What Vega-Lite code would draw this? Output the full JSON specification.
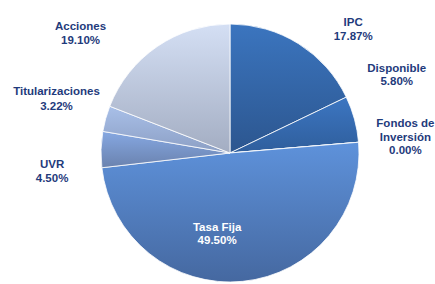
{
  "$schema": "https://vega.github.io/schema/vega-lite/v6.json",
  "autosize": "none",
  "width": 260,
  "height": 260,
  "padding": {"left": 100, "top": 23, "right": 75, "bottom": 1},
  "background": "white",
  "config": {"view": {"stroke": null}},
  "data": {
    "values": [
      {"name": "IPC", "value": 17.87, "order": 1, "label": ["IPC", "17.87%"]},
      {"name": "Disponible", "value": 5.80, "order": 2, "label": ["Disponible", "5.80%"]},
      {"name": "Fondos de Inversión", "value": 0.0, "order": 3, "label": ["Fondos de", "Inversión", "0.00%"]},
      {"name": "Tasa Fija", "value": 49.50, "order": 4, "label": ["Tasa Fija", "49.50%"]},
      {"name": "UVR", "value": 4.50, "order": 5, "label": ["UVR", "4.50%"]},
      {"name": "Titularizaciones", "value": 3.22, "order": 6, "label": ["Titularizaciones", "3.22%"]},
      {"name": "Acciones", "value": 19.10, "order": 7, "label": ["Acciones", "19.10%"]}
    ]
  },
  "encoding": {
    "theta": {"field": "value", "type": "quantitative", "stack": true},
    "order": {"field": "order", "type": "quantitative"}
  },
  "layer": [
    {
      "mark": {"type": "arc", "outerRadius": 129, "stroke": "#ffffff", "strokeWidth": 0.8},
      "encoding": {
        "color": {
          "condition": [
            {"test": "datum.name === 'IPC'", "value": {"gradient": "linear", "x1": 0, "y1": 0, "x2": 0, "y2": 1, "stops": [{"offset": 0, "color": "#3b75bf"}, {"offset": 1, "color": "#2c568f"}]}},
            {"test": "datum.name === 'Disponible'", "value": {"gradient": "linear", "x1": 0, "y1": 0, "x2": 0, "y2": 1, "stops": [{"offset": 0, "color": "#3c76c2"}, {"offset": 1, "color": "#2f5e9c"}]}},
            {"test": "datum.name === 'Tasa Fija'", "value": {"gradient": "linear", "x1": 0, "y1": 0, "x2": 0, "y2": 1, "stops": [{"offset": 0, "color": "#5e92db"}, {"offset": 1, "color": "#4568a0"}]}},
            {"test": "datum.name === 'UVR'", "value": {"gradient": "linear", "x1": 0, "y1": 0, "x2": 0, "y2": 1, "stops": [{"offset": 0, "color": "#86a8e2"}, {"offset": 1, "color": "#6a82ae"}]}},
            {"test": "datum.name === 'Titularizaciones'", "value": {"gradient": "linear", "x1": 0, "y1": 0, "x2": 0, "y2": 1, "stops": [{"offset": 0, "color": "#a8bfe8"}, {"offset": 1, "color": "#8c9fc4"}]}},
            {"test": "datum.name === 'Acciones'", "value": {"gradient": "linear", "x1": 0, "y1": 0, "x2": 0, "y2": 1, "stops": [{"offset": 0, "color": "#d4dff4"}, {"offset": 1, "color": "#a3adc2"}]}}
          ],
          "value": "#3c76c2"
        }
      }
    },
    {
      "mark": {"type": "text", "radius": 175, "dx": 30, "dy": 18, "font": "Liberation Sans", "fontWeight": "bold", "fontSize": 11.5, "fill": "#1f3b7c", "align": "center", "baseline": "middle", "lineHeight": 14.5},
      "encoding": {"text": {"condition": {"test": "datum.name === 'IPC'", "field": "label"}, "value": ""}}
    },
    {
      "mark": {"type": "text", "radius": 180, "dx": -7, "dy": -37, "font": "Liberation Sans", "fontWeight": "bold", "fontSize": 11.5, "fill": "#1f3b7c", "align": "center", "baseline": "middle", "lineHeight": 13.5},
      "encoding": {"text": {"condition": {"test": "datum.name === 'Disponible'", "field": "label"}, "value": ""}}
    },
    {
      "mark": {"type": "text", "radius": 175, "dx": 1, "dy": -14, "font": "Liberation Sans", "fontWeight": "bold", "fontSize": 11.5, "fill": "#1f3b7c", "align": "center", "baseline": "middle", "lineHeight": 13.5},
      "encoding": {"text": {"condition": {"test": "datum.name === 'Fondos de Inversión'", "field": "label"}, "value": ""}}
    },
    {
      "mark": {"type": "text", "radius": 82, "dx": -21, "dy": -7, "font": "Liberation Sans", "fontWeight": "bold", "fontSize": 11.5, "fill": "#ffffff", "align": "center", "baseline": "middle", "lineHeight": 13},
      "encoding": {"text": {"condition": {"test": "datum.name === 'Tasa Fija'", "field": "label"}, "value": ""}}
    },
    {
      "mark": {"type": "text", "radius": 178, "dx": 0, "dy": 17, "font": "Liberation Sans", "fontWeight": "bold", "fontSize": 11.5, "fill": "#1f3b7c", "align": "center", "baseline": "middle", "lineHeight": 14},
      "encoding": {"text": {"condition": {"test": "datum.name === 'UVR'", "field": "label"}, "value": ""}}
    },
    {
      "mark": {"type": "text", "radius": 180, "dx": 0, "dy": -13, "font": "Liberation Sans", "fontWeight": "bold", "fontSize": 11.5, "fill": "#1f3b7c", "align": "center", "baseline": "middle", "lineHeight": 14.5},
      "encoding": {"text": {"condition": {"test": "datum.name === 'Titularizaciones'", "field": "label"}, "value": ""}}
    },
    {
      "mark": {"type": "text", "radius": 185, "dx": -45, "dy": 27, "font": "Liberation Sans", "fontWeight": "bold", "fontSize": 11.5, "fill": "#1f3b7c", "align": "center", "baseline": "middle", "lineHeight": 14},
      "encoding": {"text": {"condition": {"test": "datum.name === 'Acciones'", "field": "label"}, "value": ""}}
    }
  ]
}
